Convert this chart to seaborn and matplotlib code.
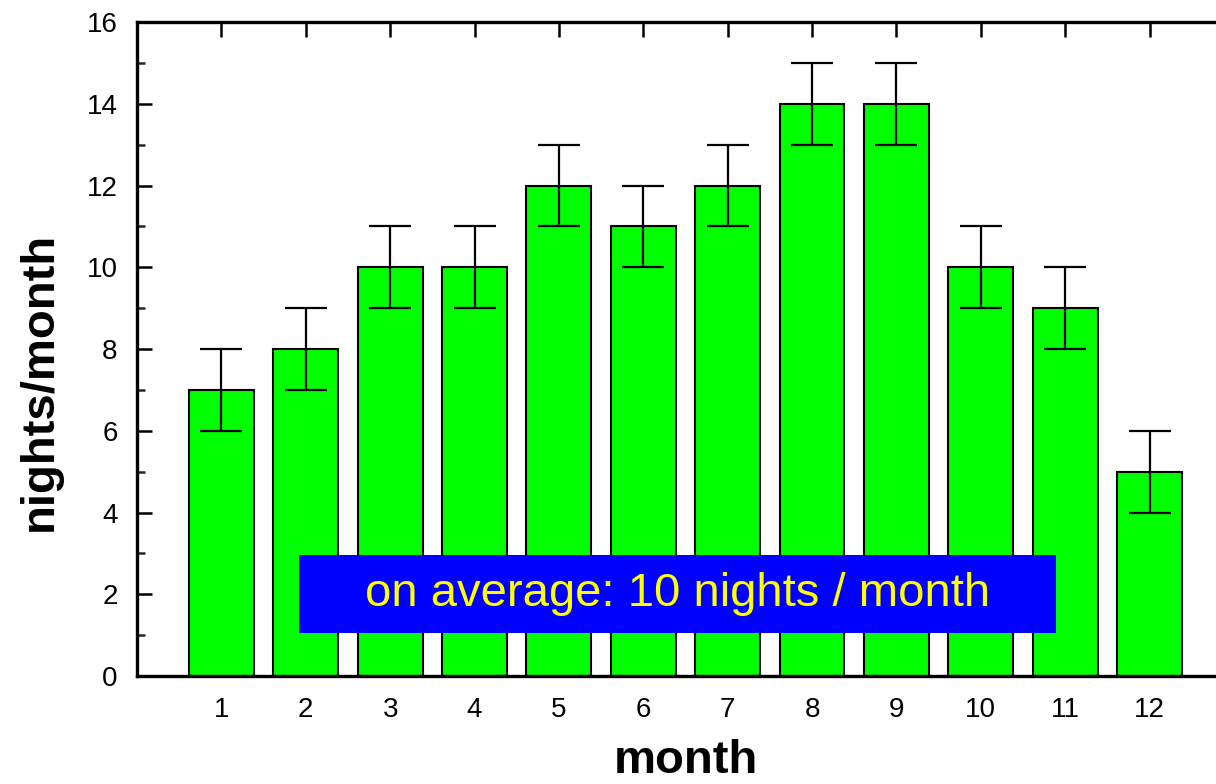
import matplotlib
matplotlib.use("Agg")
import matplotlib.pyplot as plt
from matplotlib.patches import Rectangle
from matplotlib.ticker import MultipleLocator
import seaborn as sns
import pandas as pd

# Clear nights per month with their uncertainty
months = [1, 2, 3, 4, 5, 6, 7, 8, 9, 10, 11, 12]
nights = [7, 8, 10, 10, 12, 11, 12, 14, 14, 10, 9, 5]
errors = [1, 1, 1, 1, 1, 1, 1, 1, 1, 1, 1, 1]
note_text = "on average: 10 nights / month"

df = pd.DataFrame({"month": months, "nights": nights})

sns.set_theme(style="ticks")
plt.rcParams["font.family"] = ["Liberation Sans", "DejaVu Sans"]

fig = plt.figure(figsize=(12.16, 7.84), dpi=100)
ax = fig.add_axes([0.1127, 0.1378, 0.902, 0.834])

sns.barplot(data=df, x="month", y="nights", native_scale=True,
            color="#00ff00", saturation=1, width=0.77,
            edgecolor="black", linewidth=1.5, errorbar=None, ax=ax)
ax.errorbar(months, nights, yerr=errors, fmt="none", ecolor="black",
            elinewidth=1.6, capsize=15, capthick=1.6, zorder=3)

ax.set_xlim(0, 13)
ax.set_ylim(0, 16)
ax.set_xticks(months)
ax.set_xticklabels([str(m) for m in months])
ax.yaxis.set_major_locator(MultipleLocator(2))
ax.yaxis.set_minor_locator(MultipleLocator(1))

for side in ["left", "right", "top", "bottom"]:
    ax.spines[side].set_visible(True)
    ax.spines[side].set_linewidth(2.4)
    ax.spines[side].set_color("black")

ax.tick_params(axis="both", which="major", direction="in", length=11,
               width=1.8, labelsize=20, top=True, right=True, pad=14,
               colors="black", labelcolor="black")
ax.tick_params(axis="y", which="minor", direction="in", length=6,
               width=1.8, right=True)
ax.tick_params(axis="x", which="major", pad=15)

ax.set_xlabel("month", fontsize=34, fontweight="bold", labelpad=12,
              color="black")
ax.set_ylabel("nights/month", fontsize=34, fontweight="bold",
              color="black")
ax.yaxis.set_label_coords(-0.069, 0.451)

# Annotation panel with the yearly average
ax.add_patch(Rectangle((1.92, 1.05), 8.97, 1.91, facecolor="#0000ff",
                       edgecolor="none", zorder=4))
ax.text(6.405, 2.0, note_text, color="#ffff00", fontsize=34,
        ha="center", va="center", zorder=5)

fig.savefig("out.png", dpi=100)
